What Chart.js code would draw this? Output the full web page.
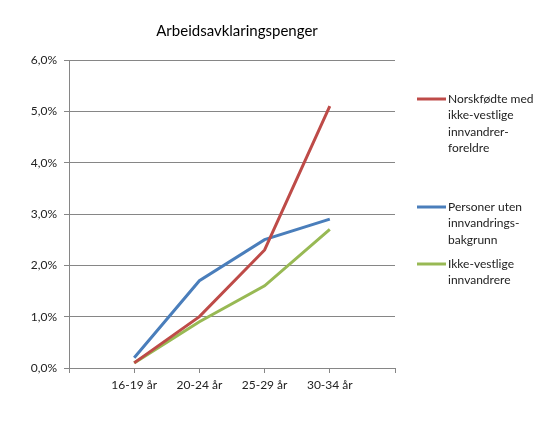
<!DOCTYPE html>
<html>
<head>
<meta charset="utf-8">
<script src="https://cdn.jsdelivr.net/npm/chart.js@4"></script>
<style>
  html, body { margin: 0; padding: 0; background: #fff; }
  #chartDiv { width: 560px; height: 430px; }
</style>
</head>
<body>
<div id="chartDiv"><canvas id="myChart"></canvas></div>
<script>
const canvas = document.getElementById('myChart');

Chart.defaults.font.family = 'Lato, "Liberation Sans", sans-serif';
Chart.defaults.font.size = 12;
Chart.defaults.color = '#333';

const chartTitle = 'Arbeidsavklaringspenger';
const categories = ['16-19 år', '20-24 år', '25-29 år', '30-34 år'];
const yTicks = [0, 1, 2, 3, 4, 5, 6];
const norskfodte = [0.1, 1.0, 2.3, 5.1];
const utenBakgrunn = [0.2, 1.7, 2.5, 2.9];
const ikkeVestlige = [0.1, 0.9, 1.6, 2.7];
const seriesNames = [
    ['Norskfødte med', 'ikke-vestlige', 'innvandrer-', 'foreldre'],
    ['Personer uten', 'innvandrings-', 'bakgrunn'],
    ['Ikke-vestlige', 'innvandrere']
];
const colors = ['#BE4B48', '#4A7EBB', '#98B954'];

// Excel puts an empty slot on each side of the categories
const labels = [''].concat(categories, ['']);
const pad = arr => [null].concat(arr, [null]);

const dataConf = {
    labels: labels,
    datasets: [norskfodte, utenBakgrunn, ikkeVestlige].map((d, i) => ({
        label: seriesNames[i].join(' '),
        data: pad(d),
        borderColor: colors[i],
        backgroundColor: colors[i],
        borderWidth: 3,
        pointRadius: 0,
        tension: 0
    }))
};

// title and legend drawn by hand: title sits off-centre, legend entries wrap
const sideLegend = {
    id: 'sideLegend',
    afterDraw(chart) {
        const ctx = chart.ctx;
        const rowsY = [99, 207, 264];
        ctx.save();
        ctx.textBaseline = 'middle';
        ctx.fillStyle = '#000';
        ctx.font = '15px Lato, "Liberation Sans", sans-serif';
        ctx.textAlign = 'center';
        ctx.fillText(chartTitle, 237, 31);
        ctx.textAlign = 'left';
        ctx.font = '12px Lato, "Liberation Sans", sans-serif';
        ctx.fillStyle = '#222';
        seriesNames.forEach((lines, i) => {
            const y = rowsY[i];
            ctx.strokeStyle = colors[i];
            ctx.lineWidth = 3;
            ctx.beginPath();
            ctx.moveTo(417, y);
            ctx.lineTo(446, y);
            ctx.stroke();
            lines.forEach((t, j) => ctx.fillText(t, 448, y + j * 16.5));
        });
        ctx.restore();
    }
};

const config = {
    type: 'line',
    data: dataConf,
    options: {
        maintainAspectRatio: false,
        responsive: true,
        animation: false,
        layout: { padding: { left: 0, right: 165, top: 60, bottom: 0 } },
        plugins: {
            legend: { display: false },
            tooltip: { enabled: false },
            title: { display: false }
        },
        scales: {
            x: {
                offset: false,
                grid: { drawOnChartArea: false, drawTicks: true, tickLength: 5, color: '#868686' },
                border: { color: '#868686' },
                ticks: { padding: 5, maxRotation: 0, autoSkip: false, color: '#222' },
                afterFit: s => { s.height = 62; }
            },
            y: {
                min: 0,
                max: 6,
                afterBuildTicks: s => { s.ticks = yTicks.map(v => ({ value: v })); },
                grid: { color: '#868686', tickLength: 5 },
                border: { color: '#868686' },
                ticks: {
                    padding: 7,
                    color: '#222',
                    callback: v => v.toFixed(1).replace('.', ',') + '%'
                },
                afterFit: s => { s.width = 69; }
            }
        }
    },
    plugins: [sideLegend]
};

const myChart = new Chart(canvas, config);
</script>
</body>
</html>
